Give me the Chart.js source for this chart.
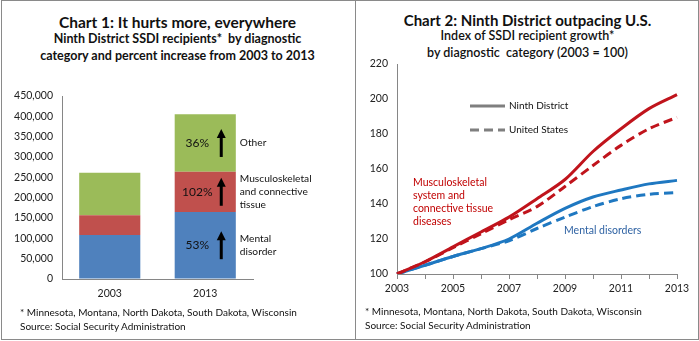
<!DOCTYPE html>
<html>
<head>
<meta charset="utf-8">
<script src="https://cdn.jsdelivr.net/npm/chart.js@4.4.1/dist/chart.umd.min.js"></script>
<style>
  body { margin: 0; background: #fff; font-family: Lato, "Open Sans", sans-serif; color: #111; }
  #frame { position: absolute; left: 1px; top: 0; width: 698px; height: 340px; border: 1px solid #8a8a8a; box-sizing: border-box; }
  #divider { position: absolute; left: 355px; top: 0; width: 1px; height: 340px; background: #8a8a8a; }
  canvas { position: absolute; top: 0; }
  #c1 { left: 0; }
  #c2 { left: 356px; }
  .title { position: absolute; text-align: center; font-weight: bold; font-size: 15.5px; line-height: 20px; white-space: nowrap; }
  .sub { position: absolute; text-align: center; font-weight: bold; font-size: 12.5px; line-height: 17px; white-space: nowrap; }
  .note { position: absolute; font-size: 10px; line-height: 13.5px; white-space: nowrap; }
</style>
</head>
<body>
<div id="frame"></div>
<div id="divider"></div>

<div class="title" style="left:0;width:355px;top:12px;">Chart 1: It hurts more, everywhere</div>
<div class="sub" style="left:0;width:355px;top:30px;">Ninth District SSDI recipients*&nbsp; by diagnostic<br>category and percent increase from 2003 to 2013</div>

<div class="title" style="left:356px;width:343px;top:10px;font-size:15px;">Chart 2: Ninth District outpacing U.S.</div>
<div class="sub" style="left:356px;width:343px;top:27px;font-weight:600;">Index of SSDI recipient growth*<br>by diagnostic&nbsp; category (2003 = 100)</div>

<canvas id="c1" width="355" height="341"></canvas>
<canvas id="c2" width="343" height="341"></canvas>

<div class="note" style="left:20px;top:306px;">* Minnesota, Montana, North Dakota, South Dakota, Wisconsin<br>Source: Social Security Administration</div>
<div class="note" style="left:365px;top:305px;">* Minnesota, Montana, North Dakota, South Dakota, Wisconsin<br>Source: Social Security Administration</div>

<script>
// ---------- chart 1 data: recipients by diagnostic category ----------
const barYears = ["2003", "2013"];
const mentalCount = [108000, 165000];
const muscCount = [49000, 99000];
const otherCount = [104000, 141000];
const sideLabels = [["Mental", "disorder"], ["Musculoskeletal", "and connective", "tissue"], ["Other"]];

// ---------- chart 2 data: index 2003 = 100 ----------
const lineYears = ["2003", "2004", "2005", "2006", "2007", "2008", "2009", "2010", "2011", "2012", "2013"];
const muscNinth = [100, 107, 115.5, 124, 132.5, 143, 154, 170, 183, 194.5, 202.5];
const muscUS = [100, 107, 115, 123, 131, 138.5, 150, 162, 173.5, 183, 189.5];
const mentalNinth = [100, 105, 110, 114.5, 120, 129, 137.5, 144, 148, 151.5, 153.5];
const mentalUS = [100, 105, 110, 114.5, 119, 126, 132.5, 138.5, 143, 145.5, 146.5];

const axisGray = "#868686";
const tickFont = { family: "Lato", size: 10.5 };
const redLine = "#c0141c";
const blueLine = "#1f78c1";

// percent labels, arrows and category names on the 2013 bar
const barNotes = {
  id: "barNotes",
  afterDatasetsDraw(chart) {
    const ctx = chart.ctx;
    ctx.save();
    chart.data.datasets.forEach((ds, i) => {
      const bar = chart.getDatasetMeta(i).data[1];
      const mid = (bar.y + bar.base) / 2;
      const pct = Math.round((ds.data[1] - ds.data[0]) / ds.data[0] * 100) + "%";
      ctx.fillStyle = "#111";
      ctx.textAlign = "center";
      ctx.textBaseline = "middle";
      ctx.font = "12px Lato";
      ctx.fillText(pct, bar.x - 8, mid);

      // up arrow
      const ax = bar.x + 16;
      ctx.strokeStyle = "#000";
      ctx.lineWidth = 3;
      ctx.beginPath();
      ctx.moveTo(ax, mid + 14);
      ctx.lineTo(ax, mid - 8);
      ctx.stroke();
      ctx.fillStyle = "#000";
      ctx.beginPath();
      ctx.moveTo(ax, mid - 14);
      ctx.lineTo(ax - 4.5, mid - 5);
      ctx.lineTo(ax + 4.5, mid - 5);
      ctx.closePath();
      ctx.fill();

      // name to the right of the bar
      const lines = sideLabels[i];
      ctx.fillStyle = "#111";
      ctx.textAlign = "left";
      ctx.font = "10.2px Lato";
      const x0 = bar.x + bar.width / 2 + 4;
      lines.forEach((t, k) => {
        ctx.fillText(t, x0, mid + (k - (lines.length - 1) / 2) * 13);
      });
    });
    ctx.restore();
  }
};

new Chart(document.getElementById("c1"), {
  type: "bar",
  data: {
    labels: barYears,
    datasets: [
      { label: "Mental disorder", data: mentalCount, backgroundColor: "#4f81bd" },
      { label: "Musculoskeletal and connective tissue", data: muscCount, backgroundColor: "#c0504d" },
      { label: "Other", data: otherCount, backgroundColor: "#9bbb59" }
    ]
  },
  options: {
    responsive: false,
    animation: false,
    layout: { padding: { left: 0, right: 102, top: 96, bottom: 42 } },
    datasets: { bar: { categoryPercentage: 1, barPercentage: 0.64 } },
    plugins: { legend: { display: false }, tooltip: { enabled: false } },
    scales: {
      x: {
        stacked: true,
        grid: { display: true, drawOnChartArea: false, drawTicks: false },
        border: { color: axisGray },
        ticks: { color: "#222", font: tickFont, padding: 8 },
        afterFit(s) { s.height = 20; }
      },
      y: {
        stacked: true,
        min: 0,
        max: 450000,
        grid: { display: true, drawOnChartArea: false, drawTicks: false },
        border: { color: axisGray },
        ticks: {
          stepSize: 50000,
          color: "#222",
          font: tickFont,
          padding: 9,
          callback: v => v.toLocaleString("en-US")
        },
        afterFit(s) { s.width = 62; }
      }
    }
  },
  plugins: [barNotes]
});

// legend keys and series names inside chart 2
const lineNotes = {
  id: "lineNotes",
  afterDatasetsDraw(chart) {
    const ctx = chart.ctx;
    const a = chart.chartArea;
    ctx.save();
    ctx.strokeStyle = "#7f7f7f";
    ctx.lineWidth = 3;
    ctx.beginPath();
    ctx.moveTo(a.left + 73, a.top + 42);
    ctx.lineTo(a.left + 108, a.top + 42);
    ctx.stroke();
    ctx.setLineDash([9, 5]);
    ctx.beginPath();
    ctx.moveTo(a.left + 73, a.top + 66);
    ctx.lineTo(a.left + 108, a.top + 66);
    ctx.stroke();
    ctx.setLineDash([]);

    ctx.fillStyle = "#111";
    ctx.textAlign = "left";
    ctx.textBaseline = "middle";
    ctx.font = "10px Lato";
    ctx.fillText("Ninth District", a.left + 112, a.top + 42);
    ctx.fillText("United States", a.left + 112, a.top + 66);

    ctx.font = "10.5px Lato";
    ctx.fillStyle = "#c00000";
    ["Musculoskeletal", "system and", "connective tissue", "diseases"].forEach((t, k) => {
      ctx.fillText(t, a.left + 16, a.top + 119 + k * 13);
    });
    ctx.fillStyle = "#2e62a3";
    ctx.fillText("Mental disorders", a.left + 167, a.top + 167);
    ctx.restore();
  }
};

const lineStyle = { borderWidth: 3, pointRadius: 0, tension: 0.3, fill: false };

new Chart(document.getElementById("c2"), {
  type: "line",
  data: {
    labels: lineYears,
    datasets: [
      { label: "Musculoskeletal - Ninth District", data: muscNinth, borderColor: redLine, ...lineStyle },
      { label: "Musculoskeletal - United States", data: muscUS, borderColor: redLine, borderDash: [9, 5], ...lineStyle },
      { label: "Mental - Ninth District", data: mentalNinth, borderColor: blueLine, ...lineStyle },
      { label: "Mental - United States", data: mentalUS, borderColor: blueLine, borderDash: [9, 5], ...lineStyle }
    ]
  },
  options: {
    responsive: false,
    animation: false,
    layout: { padding: { left: 0, right: 22, top: 64, bottom: 47 } },
    plugins: { legend: { display: false }, tooltip: { enabled: false } },
    scales: {
      x: {
        offset: false,
        grid: { display: true, drawOnChartArea: false, drawTicks: true, tickLength: 5, color: axisGray, offset: false },
        border: { color: axisGray },
        ticks: {
          autoSkip: false,
          maxRotation: 0,
          color: "#222",
          font: tickFont,
          padding: 3,
          callback: (v, i) => (i % 2 === 0 ? lineYears[i] : "")
        },
        afterFit(s) { s.height = 20; }
      },
      y: {
        min: 100,
        max: 220,
        grid: { display: true, drawOnChartArea: false, drawTicks: false },
        border: { color: axisGray },
        ticks: { stepSize: 20, color: "#222", font: tickFont, padding: 9 },
        afterFit(s) { s.width = 41; }
      }
    }
  },
  plugins: [lineNotes]
});
</script>
</body>
</html>
